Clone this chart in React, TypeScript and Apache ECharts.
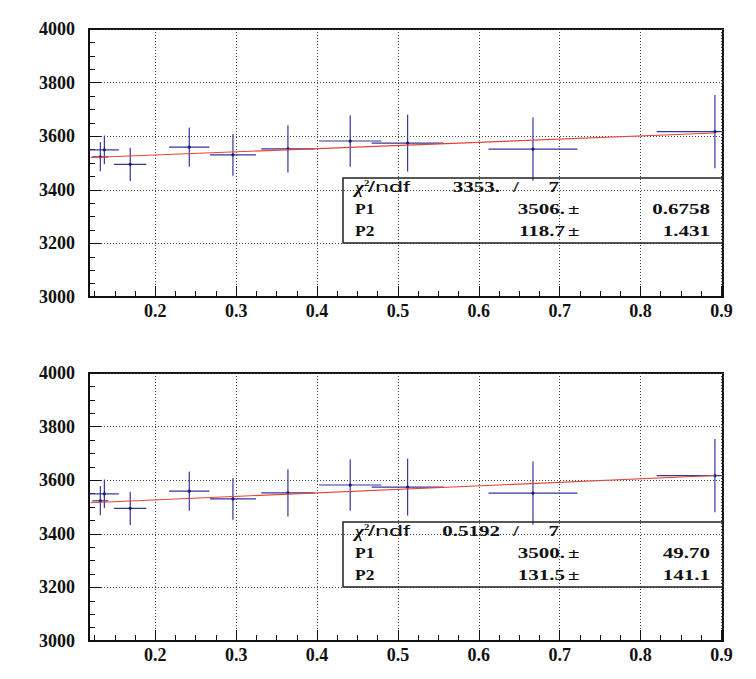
import React, { useEffect, useRef } from 'react';
import * as echarts from 'echarts';

// ---- data ----
const binCenters = [0.132, 0.137, 0.169, 0.242, 0.296, 0.364, 0.441, 0.512, 0.667, 0.892];
const binHalfWidths = [0.01, 0.018, 0.02, 0.025, 0.0285, 0.033, 0.0386, 0.0445, 0.055, 0.072];
const values = [3523, 3549, 3495, 3559, 3530, 3553, 3582, 3574, 3552, 3617];
const errors = [54, 54, 62, 73, 78, 88, 96, 106, 118, 137];

const fitRange = [0.12, 0.892];
const topFit = { p1: 3506, p2: 118.7 };
const bottomFit = { p1: 3500, p2: 131.5 };

const topStats = { chi2: '3353.', ndf: '7', p1: '3506.', p1Err: '0.6758', p2: '118.7', p2Err: '1.431' };
const bottomStats = { chi2: '0.5192', ndf: '7', p1: '3500.', p1Err: '49.70', p2: '131.5', p2Err: '141.1' };

const X_MIN = 0.118;
const X_MAX = 0.902;
const Y_MIN = 3000;
const Y_MAX = 4000;
const Y_INTERVAL = 200;

const GRID_LEFT = 89;
const GRID_WIDTH = 634;
const GRID_HEIGHT = 268;
const GRID_TOPS = [29, 373];

const BLUE = '#35359c';
const RED = '#e3463c';
const INK = '#111';
const SERIF = 'Liberation Serif';
const SANS = 'Liberation Sans';

const pointData = binCenters.map((x, i) => [x, values[i], binHalfWidths[i], errors[i]]);

const fitLine = (f: { p1: number; p2: number }) =>
  fitRange.map((x) => [x, f.p1 + f.p2 * x]);

function statsBox(top: number, s: typeof topStats) {
  const left = 343;
  const width = 380;
  const height = 65;
  const rows = [top + 9, top + 31, top + 53];
  const sx = 1.5;
  const t = (
    text: string,
    x: number,
    y: number,
    align: string,
    size: number,
    family = SERIF,
    weight = 'bold',
    fontStyle = 'normal',
    scaleX = sx
  ) => ({
    type: 'text',
    x,
    y,
    scaleX,
    z: 100,
    style: {
      text,
      x: 0,
      y: 0,
      align,
      textAlign: align,
      verticalAlign: 'middle',
      textVerticalAlign: 'middle',
      fontSize: size,
      fontFamily: family,
      fontWeight: weight,
      fontStyle,
      fill: INK,
    },
  });
  return [
    {
      type: 'rect',
      z: 100,
      shape: { x: left, y: top, width, height },
      style: { fill: 'rgba(0,0,0,0)', stroke: '#222', lineWidth: 1.5 },
    },
    t('χ', 355, rows[0] + 1, 'left', 16, SERIF, 'bold', 'italic', 1.2),
    t('2', 364, rows[0] - 4, 'left', 9, SERIF, 'bold', 'normal', 1.2),
    t('/ndf', 368, rows[0], 'left', 14, SANS, 'normal', 'normal', 1.8),
    t(s.chi2, 500, rows[0], 'right', 14),
    t('/', 516, rows[0], 'center', 14),
    t(s.ndf, 559, rows[0], 'right', 14),
    t('P1', 355, rows[1], 'left', 14, SERIF, 'bold', 'normal', 1.25),
    t(s.p1, 565, rows[1], 'right', 14),
    t('±', 568, rows[1], 'left', 14),
    t(s.p1Err, 710, rows[1], 'right', 14),
    t('P2', 355, rows[2], 'left', 14, SERIF, 'bold', 'normal', 1.25),
    t(s.p2, 565, rows[2], 'right', 14),
    t('±', 568, rows[2], 'left', 14),
    t(s.p2Err, 710, rows[2], 'right', 14),
  ];
}

const labelStyle = {
  color: INK,
  fontFamily: SERIF,
  fontWeight: 'bold',
  fontSize: 18,
};

const xAxisCfg = (gridIndex: number) => ({
  type: 'value',
  gridIndex,
  min: X_MIN,
  max: X_MAX,
  splitNumber: 8,
  axisLine: { show: true, onZero: false, lineStyle: { color: INK, width: 2 } },
  axisTick: { show: true, inside: true, length: 11, lineStyle: { color: INK, width: 1 } },
  minorTick: { show: true, splitNumber: 4, length: 6, lineStyle: { color: INK, width: 1 } },
  axisLabel: {
    show: true,
    margin: 5,
    showMinLabel: false,
    showMaxLabel: false,
    formatter: (v: number) => String(Math.round(v * 1000) / 1000),
    ...labelStyle,
  },
  splitLine: { show: true, lineStyle: { color: '#444', width: 1, type: [1, 2] } },
  minorSplitLine: { show: false },
});

const yAxisCfg = (gridIndex: number) => ({
  type: 'value',
  gridIndex,
  min: Y_MIN,
  max: Y_MAX,
  interval: Y_INTERVAL,
  axisLine: { show: true, onZero: false, lineStyle: { color: INK, width: 2 } },
  axisTick: { show: true, inside: true, length: 12, lineStyle: { color: INK, width: 1 } },
  minorTick: { show: true, splitNumber: 4, length: 6, lineStyle: { color: INK, width: 1 } },
  axisLabel: { show: true, margin: 14, formatter: (v: number) => String(v), ...labelStyle },
  splitLine: { show: true, lineStyle: { color: '#444', width: 1, type: [1, 2] } },
  minorSplitLine: { show: false },
});

const errorSeries = (idx: number) => ({
  type: 'custom',
  xAxisIndex: idx,
  yAxisIndex: idx,
  data: pointData,
  encode: { x: 0, y: 1 },
  silent: true,
  z: 3,
  renderItem: (params: any, api: any) => {
    const x = api.value(0);
    const y = api.value(1);
    const ex = api.value(2);
    const ey = api.value(3);
    const cs = params.coordSys;
    const c = api.coord([x, y]);
    const l = api.coord([x - ex, y]);
    const r = api.coord([x + ex, y]);
    const tp = api.coord([x, y + ey]);
    const bt = api.coord([x, y - ey]);
    const x1 = Math.max(l[0], cs.x);
    const x2 = Math.min(r[0], cs.x + cs.width);
    const st = { stroke: BLUE, lineWidth: 1.2 };
    return {
      type: 'group',
      children: [
        { type: 'line', shape: { x1, y1: c[1], x2, y2: c[1] }, style: st },
        { type: 'line', shape: { x1: c[0], y1: tp[1], x2: c[0], y2: bt[1] }, style: st },
        { type: 'circle', shape: { cx: c[0], cy: c[1], r: 1.6 }, style: { fill: '#1c1c70' } },
      ],
    };
  },
});

const fitSeries = (idx: number, f: { p1: number; p2: number }) => ({
  type: 'line',
  xAxisIndex: idx,
  yAxisIndex: idx,
  data: fitLine(f),
  symbol: 'none',
  silent: true,
  z: 4,
  lineStyle: { color: RED, width: 1.1 },
});

export default function App() {
  const ref = useRef<HTMLDivElement>(null);
  useEffect(() => {
    if (!ref.current) return;
    const chart = echarts.init(ref.current, undefined, { renderer: 'svg' });
    const grids = GRID_TOPS.map((top) => ({
      left: GRID_LEFT,
      top,
      width: GRID_WIDTH,
      height: GRID_HEIGHT,
      show: true,
      borderColor: INK,
      borderWidth: 2,
      backgroundColor: 'rgba(0,0,0,0)',
      containLabel: false,
      outerBoundsMode: 'none',
    }));
    chart.setOption({
      animation: false,
      backgroundColor: '#fff',
      grid: grids,
      xAxis: [xAxisCfg(0), xAxisCfg(1)],
      yAxis: [yAxisCfg(0), yAxisCfg(1)],
      series: [
        errorSeries(0),
        fitSeries(0, topFit),
        errorSeries(1),
        fitSeries(1, bottomFit),
      ],
      graphic: [...statsBox(178, topStats), ...statsBox(522, bottomStats)],
    });
    return () => chart.dispose();
  }, []);
  return (
    <div
      ref={ref}
      style={{ position: 'fixed', left: 0, top: 0, width: 756, height: 679, background: '#fff' }}
    />
  );
}
